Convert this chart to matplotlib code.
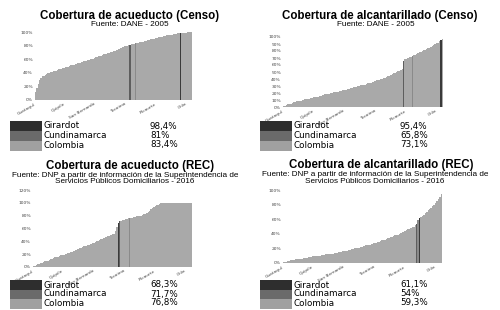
import numpy as np
import matplotlib
matplotlib.use('Agg')
import matplotlib.pyplot as plt
from matplotlib.patches import Rectangle

W, H = 500, 310

# %% data (sorted municipal coverage, %)
acu_censo = [12, 18, 24, 29, 33, 35, 36, 37, 38, 39, 40, 41, 41, 42, 43, 43, 44, 45,
             45, 46, 47, 47, 48, 49, 49, 50, 51, 51, 52, 53, 53, 54, 55, 55, 56, 57,
             57, 58, 59, 59, 60, 61, 61, 62, 63, 63, 64, 65, 65, 66, 67, 67, 68, 69,
             69, 70, 71, 72, 72, 73, 74, 75, 76, 77, 78, 79, 79, 80, 81, 82, 82, 83,
             84, 84, 85, 85, 86, 86, 87, 87, 88, 88, 89, 89, 90, 90, 91, 91, 92, 92,
             93, 93, 94, 94, 95, 95, 96, 96, 96, 97, 97, 97, 98, 98, 99, 99, 99,
             99, 100, 100, 100, 100]
alc_censo = [1, 2, 3, 4, 5, 5, 6, 7, 7, 8, 8, 9, 9, 10, 10, 11, 11, 12, 12, 13, 13,
             14, 14, 15, 15, 16, 16, 17, 17, 18, 18, 19, 19, 20, 20, 21, 21, 22, 22,
             23, 23, 24, 24, 25, 25, 26, 26, 27, 27, 28, 28, 29, 30, 30, 31, 31, 32,
             32, 33, 34, 34, 35, 36, 36, 37, 38, 38, 39, 40, 40, 41, 42, 43, 44, 45,
             46, 47, 48, 49, 50, 51, 52, 53, 54, 68, 69, 70, 71, 72, 74, 75, 76, 77,
             78, 79, 80, 81, 82, 83, 84, 85, 86, 87, 88, 90, 91, 92, 94, 97]
acu_rec = [1, 2, 3, 4, 5, 6, 7, 8, 9, 10, 10, 11, 12, 13, 14, 15, 15, 16, 17, 18, 18,
           19, 20, 21, 22, 22, 23, 24, 25, 26, 27, 28, 29, 30, 31, 32, 33, 33, 34, 35,
           36, 37, 38, 39, 40, 41, 42, 43, 44, 45, 46, 47, 48, 49, 50, 51, 52, 56, 62,
           72, 73, 74, 75, 75, 76, 77, 77, 78, 78, 79, 79, 80, 80, 81, 82, 83, 84,
           86, 88, 90, 92, 94, 95, 96, 97, 98, 99, 99, 100, 100, 100, 100, 100, 100,
           100, 100, 100, 100, 100, 100, 100, 100, 100, 100, 100, 100, 100, 100]
alc_rec = [1, 2, 2, 3, 3, 4, 4, 4, 5, 5, 5, 6, 6, 6, 7, 7, 7, 8, 8, 8, 9, 9, 9, 10,
           10, 10, 11, 11, 11, 12, 12, 12, 13, 13, 13, 14, 14, 14, 15, 15, 15, 16, 16,
           17, 17, 18, 18, 19, 19, 20, 20, 21, 21, 22, 22, 23, 23, 24, 24, 25, 25, 26,
           27, 27, 28, 29, 29, 30, 31, 31, 32, 33, 34, 34, 35, 36, 37, 38, 38, 39, 40,
           41, 42, 43, 44, 45, 46, 47, 48, 49, 50, 52, 63, 64, 66, 68, 70, 72, 74,
           76, 78, 80, 82, 85, 88, 91, 95]

ref_names = ['Girardot', 'Cundinamarca', 'Colombia']
ref_acu_censo = [98.4, 81, 83.4]
ref_alc_censo = [95.4, 65.8, 73.1]
ref_acu_rec = [68.3, 71.7, 76.8]
ref_alc_rec = [61.1, 54, 59.3]

xtick_labels = ['Guataquí', 'Quipile', 'San Bernardo', 'Tocaima', 'Ricaurte', 'Chía']

titles = ['Cobertura de acueducto (Censo)', 'Cobertura de alcantarillado (Censo)',
          'Cobertura de acueducto (REC)', 'Cobertura de alcantarillado (REC)']
src_censo = 'Fuente: DANE - 2005'
src_rec = ('Fuente: DNP a partir de información de la Superintendencia de\n'
           'Servicios Públicos Domiciliarios - 2016')

bar_c = '#a9a9a9'
ref_c = ['#3a3a3a', '#5e5e5e', '#8a8a8a']
sw_c = ['#2e2e2e', '#6a6a6a', '#a0a0a0']

fig = plt.figure(figsize=(W / 100, H / 100), dpi=100, facecolor='w')


def px_axes(l, r, t, b):
    return fig.add_axes([l / W, 1 - b / H, (r - l) / W, (b - t) / H])


def draw_panel(ax, muni, refs, ymax, ystep):
    vals = list(muni) + list(refs)
    kinds = [-1] * len(muni) + [0, 1, 2]
    order = np.argsort(vals, kind='stable')
    v = np.array(vals)[order]
    k = np.array(kinds)[order]
    cols = [bar_c if kk < 0 else ref_c[kk] for kk in k]
    x = np.arange(len(v))
    ax.bar(x, v, width=1.0, color=cols, linewidth=0)
    ax.set_xlim(-0.5, len(v) - 0.5)
    ax.set_ylim(0, ymax)
    ax.set_yticks(np.arange(0, ymax + 0.1, ystep))
    ax.set_yticklabels(['%d%%' % t for t in np.arange(0, ymax + 0.1, ystep)],
                       fontsize=3.2, color='#444444')
    pos = np.linspace(0, len(v) - 4, len(xtick_labels))
    ax.set_xticks(pos)
    ax.set_xticklabels(xtick_labels, rotation=30, ha='right', fontsize=3.2,
                       color='#444444')
    ax.tick_params(length=0, pad=1.5)
    for s in ax.spines.values():
        s.set_visible(False)
    ax.patch.set_alpha(0)


def legend_rows(x0, y_rows, refs):
    # stacked swatch to the left of the three rows
    top = y_rows[0] - 5
    bot = y_rows[-1] + 6
    hh = (bot - top) / 3
    for i in range(3):
        fig.patches.append(Rectangle((x0 / W, 1 - (top + (i + 1) * hh) / H),
                                     32 / W, hh / H, transform=fig.transFigure,
                                     color=sw_c[i], linewidth=0))
    for i, (nm, val) in enumerate(zip(ref_names, refs)):
        y = 1 - y_rows[i] / H
        fig.text((x0 + 33) / W, y, nm, fontsize=6.3, va='center', ha='left')
        fig.text((x0 + 140) / W, y, ('%g%%' % val).replace('.', ','),
                 fontsize=6.3, va='center', ha='left')


ax1 = px_axes(35, 192, 32, 100)
draw_panel(ax1, acu_censo, ref_acu_censo, 100, 20)
ax2 = px_axes(283, 443, 37, 107)
draw_panel(ax2, alc_censo, ref_alc_censo, 100, 10)
ax3 = px_axes(33, 192, 190, 267)
draw_panel(ax3, acu_rec, ref_acu_rec, 120, 20)
ax4 = px_axes(283, 442, 190, 263)
draw_panel(ax4, alc_rec, ref_alc_rec, 100, 20)

tfont = dict(fontsize=8.3, fontweight='bold', family='Liberation Sans',
             ha='center', va='center')
sfont = dict(fontsize=5.9, family='Liberation Sans', ha='center', va='center',
             linespacing=0.95)
fig.text(130 / W, 1 - 16 / H, titles[0], **tfont)
fig.text(130 / W, 1 - 24.5 / H, src_censo, **sfont)
fig.text(380 / W, 1 - 16 / H, titles[1], **tfont)
fig.text(376 / W, 1 - 24.5 / H, src_censo, **sfont)
fig.text(130 / W, 1 - 166 / H, titles[2], **tfont)
fig.text(125 / W, 1 - 178.5 / H, src_rec, **sfont)
fig.text(381 / W, 1 - 165 / H, titles[3], **tfont)
fig.text(375 / W, 1 - 178 / H, src_rec, **sfont)

legend_rows(10, [126, 135.5, 145], ref_acu_censo)
legend_rows(260, [126, 135.5, 145], ref_alc_censo)
legend_rows(10, [285, 294, 303], ref_acu_rec)
legend_rows(260, [285, 294, 303], ref_alc_rec)

fig.savefig('out.png', dpi=100, facecolor='w')
